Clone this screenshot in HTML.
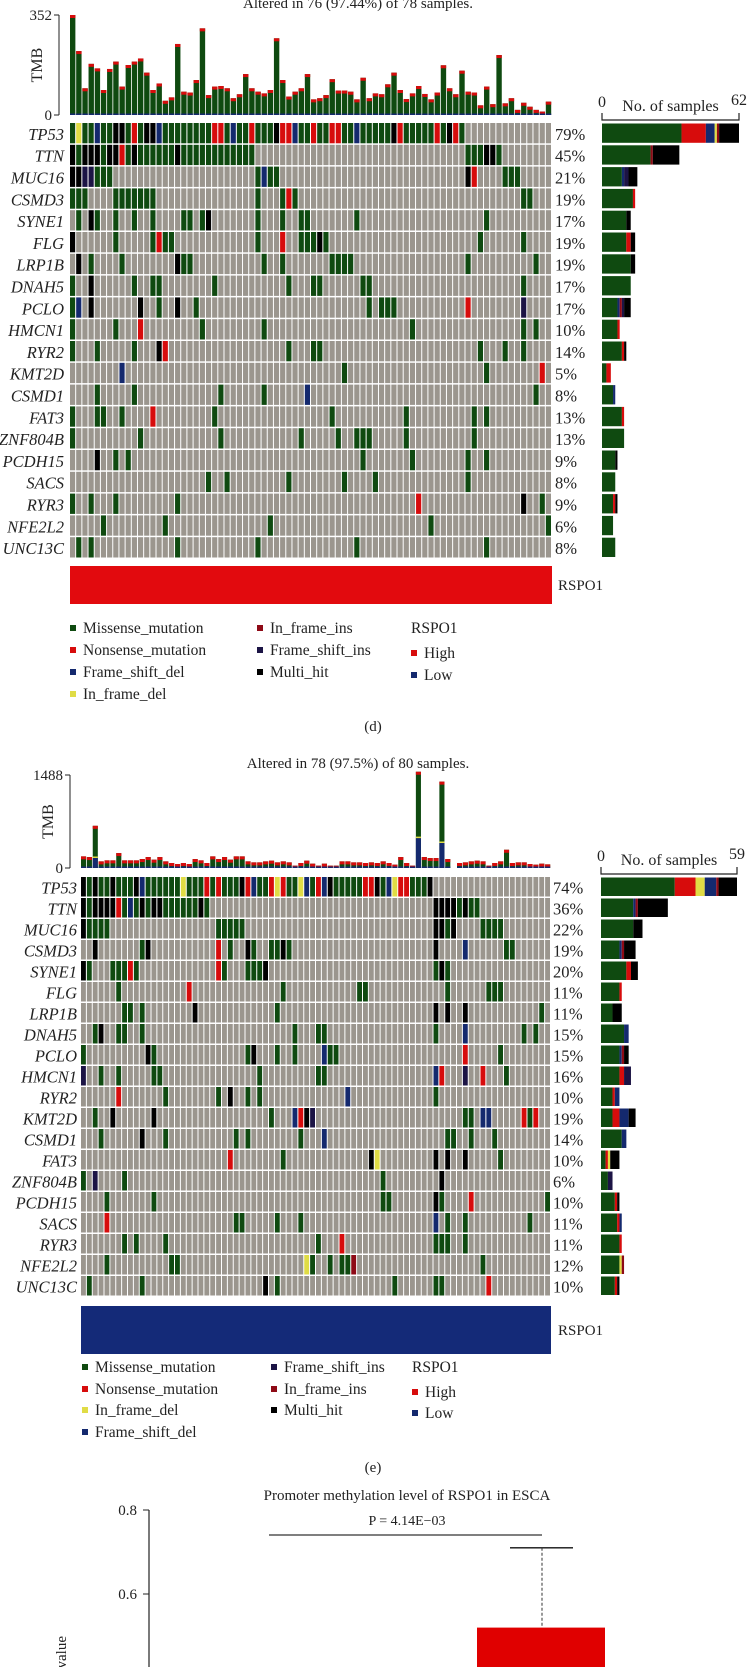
<!DOCTYPE html>
<html><head><meta charset="utf-8">
<style>
html,body{margin:0;padding:0;background:#fff;}
svg{display:block;font-family:"Liberation Serif",serif;}
</style></head>
<body>
<svg id="fig" width="755" height="1667" viewBox="0 0 755 1667" xmlns="http://www.w3.org/2000/svg"></svg>
<script>
// ---------- DATA ----------
const genes = ["TP53","TTN","MUC16","CSMD3","SYNE1","FLG","LRP1B","DNAH5","PCLO","HMCN1","RYR2","KMT2D","CSMD1","FAT3","ZNF804B","PCDH15","SACS","RYR3","NFE2L2","UNC13C"];
const pctD = ["79%","45%","21%","19%","17%","19%","19%","17%","17%","10%","14%","5%","8%","13%","13%","9%","8%","9%","6%","8%"];
const pctE = ["74%","36%","22%","19%","20%","11%","11%","15%","15%","16%","10%","19%","14%","10%","6%","10%","11%","11%","12%","10%"];
const mutD = [
"0M 1I 2-3M 4D 5-6M 7-8H 9M 10N 11M 12-13H 14D 15-22M 23-24N 25M 26D 27-28M 29N 30-32M 33H 34-35N 36D 37-38M 39N 40-41M 42-43N 44-45M 46D 47-51M 52H 53N 54-58M 59N 60M 61H 62N 63M",
"0H 1M 2-4H 5M 6-7H 8N 9M 10H 11-16M 17H 18-29M 64-66M 67-68H 69M",
"0-1H 2-3S 4-6M 30M 31D 32-33M 64H 65N 70-72M",
"0-2M 7-13M 30M 34M 35N 36M 73-74M",
"1M 3H 4M 7M 10M 13M 18-19M 21M 22H 30M 34M 37-38M 46M 67M",
"0H 7M 13M 14N 15-16M 30M 34N 37-39M 40H 41M 66M 73M",
"1H 3M 8M 17H 18-19M 31M 34M 42-45M 64M 75M",
"0M 3H 10M 13-14M 23M 35M 39-40M 47-48M 73M",
"0M 1D 3H 11H 14M 17H 20M 48M 50-52M 64N 73S",
"0M 7M 11N 21M 31M 55M 73M 75M",
"0M 4M 10M 14H 15N 35M 39-40M 66M 70M 73M",
"8D 44M 67M 76N",
"4M 10M 24M 31M 38D 75M",
"0M 4-5M 8M 13N 23M 42M 54M 65M 67M",
"0M 11M 24M 37M 43M 46-48M 54M 65M",
"4H 7M 9M 47M 55M 64M 67M",
"22M 25M 35M 44M 49M 64M",
"0M 3M 7M 17M 56N 73H 76M",
"5M 15M 32M 58M 77M",
"1M 3M 17M 30M 46M 67M"];
const mutE = [
"0H 1M 2H 3-4M 5H 6-8M 9H 10D 11-16M 17I 18-20M 21N 22M 23N 24-26M 27H 28N 29D 30-31M 32N 33I 34N 35-36M 37I 38D 39M 40N 41D 42H 43-47M 48-49N 50H 51M 52D 53I 54-55N 56-58M 59H",
"0H 1M 2-5H 6N 7M 8D 9M 10H 11M 12-13H 14-19M 20H 21M 60-63H 64M 65H 66-67M",
"0H 1-4M 23-27M 60-61H 62M 63H 68-71M",
"2H 10M 11H 23N 25M 28H 29M 32-33M 34H 35M 60H 65D 72-73M",
"0H 1M 5-7M 8N 9M 23N 24M 28-30M 31H 60M 61H 62M",
"6M 18N 34M 47-48M 62M 69-71M",
"7-8M 10M 19H 33M 60H 62H 65H 78M",
"2M 3H 6-7M 10M 36M 40-41M 60M 65D 75M 77M",
"0M 11H 12M 28M 29H 33M 36M 41D 42-43M 65N 71M",
"0S 3M 6M 12-13M 30M 40-41M 60D 61N 65S 68N 72M",
"6N 14M 23M 25H 28M 30M 45D 60M",
"2M 5H 12H 32M 36D 37N 38H 39S 65-66M 68-69D 75N 76M 77N",
"3M 10H 14M 26M 28M 37M 41D 62-63M 66M 70M",
"25N 34M 49H 50I 60H 62H 65H 71M",
"0M 2S 7M 51M 61H",
"4M 12M 51-52M 60H 61M 66N 79M",
"4N 26-27M 33M 37M 60D 62M 65M 76M",
"7M 9M 14M 40M 44N 60-62M 65M",
"4M 15-16M 38I 39M 42M 44-45M 46F 68M",
"1M 10M 31H 33M 53M 60-61M 69N"];
const tmbD = [352,225,94,180,164,88,162,188,100,176,188,199,149,88,111,50,62,250,82,79,123,305,70,100,102,94,59,73,144,94,82,76,88,270,123,65,82,94,144,55,59,70,126,86,86,82,55,131,59,76,73,108,149,88,56,76,102,74,55,79,175,94,73,156,82,79,34,100,38,211,41,59,18,43,29,18,12,47];
const tmbE = [186,175,675,106,122,122,239,122,122,122,143,175,133,175,106,80,64,80,64,143,122,80,186,143,175,133,186,186,106,90,90,106,117,90,106,90,37,80,117,69,37,69,37,37,106,106,90,90,80,90,80,106,80,53,175,80,37,1540,175,159,159,1382,143,0,80,90,106,117,106,37,80,106,292,80,90,90,64,53,69,58];
const tmbEDel = {2:160,57:478,61:400};
const barDM=[36,22,9,14,11,11,13,13,7,7,9,2,5,9,10,6,6,5,5,6];
const barDN=[11,0,0,1,0,2,0,0,0,1,1,2,0,1,0,0,0,1,0,0];
const barDF=[1,1,0,0,0,0,0,0,1,0,0,0,0,0,0,0,0,0,0,0];
const barDI=[1,0,0,0,0,0,0,0,0,0,0,0,0,0,0,0,0,0,0,0];
const barDD=[4,0,1,0,0,0,0,0,1,0,0,0,1,0,0,0,0,0,0,0];
const barDS=[0,0,2,0,0,0,0,0,1,0,0,0,0,0,0,0,0,0,0,0];
const barDH=[9,12,4,0,2,2,2,0,3,0,1,0,0,0,0,1,0,1,0,0];
const barEM=[32,14,14,8,11,8,5,10,8,8,5,5,9,2,3,6,7,8,8,6];
const barEN=[9,0,0,0,2,1,0,0,0,2,1,3,0,1,0,1,1,1,0,1];
const barEF=[1,1,0,1,0,0,0,0,1,0,0,0,0,0,0,0,0,0,1,0];
const barEI=[4,0,0,0,0,0,0,0,0,0,0,0,0,1,0,0,0,0,1,0];
const barED=[5,1,0,1,0,0,0,2,1,0,2,4,2,0,0,0,1,0,0,0];
const barES=[0,0,0,0,0,0,0,0,0,3,0,0,0,0,2,0,0,0,0,0];
const barEH=[8,13,4,5,3,0,4,0,2,0,0,3,0,4,0,1,0,0,0,1];
const boxWhiskerTop = 0.71;
const boxTop = 0.52;
const yTicksMeth = [0.8,0.6,0.4];

// ---------- HELPERS ----------
const NS="http://www.w3.org/2000/svg";
const svg=document.getElementById('fig');
const COL={M:"#0f4a10",N:"#d70c0c",D:"#14296e",I:"#e0dc45",S:"#1c1445",F:"#8e0a16",H:"#000000"};
const GREY="#9b968e";
function el(tag,attrs,parent){const e=document.createElementNS(NS,tag);for(const k in attrs)e.setAttribute(k,attrs[k]);(parent||svg).appendChild(e);return e;}
function txt(s,attrs,parent){const t=el('text',attrs,parent);t.textContent=s;return t;}
function parseMut(str){const m={};str.trim().split(/\s+/).forEach(tok=>{const mm=tok.match(/^(\d+)(?:-(\d+))?([A-Z])$/);if(!mm)return;const a=+mm[1],b=mm[2]?+mm[2]:a;for(let i=a;i<=b;i++)m[i]=mm[3];});return m;}

function oncoplot(cfg){
  const g=el('g',{});
  
  
  const w=(cfg.x1-cfg.x0)/cfg.n, h=cfg.rowH;
  const t=txt(cfg.title,{x:358,y:cfg.titleY,'text-anchor':'middle','font-size':15,fill:'#222'},g);
  
  const ty=v=>cfg.tmbBase-(v/cfg.tmbMax)*(cfg.tmbBase-cfg.tmbTop);
  el('line',{x1:cfg.axX,y1:cfg.tmbTop,x2:cfg.axX,y2:cfg.tmbBase,stroke:'#222','stroke-width':1},g);
  [[cfg.tmbMax,cfg.tmbTop],[0,cfg.tmbBase]].forEach(([v,y])=>{
    el('line',{x1:cfg.axX-5,y1:y,x2:cfg.axX,y2:y,stroke:'#222'},g);
    const l=txt(String(v),{x:cfg.axX-7,y:y+5,'text-anchor':'end','font-size':15,fill:'#222'},g);
    
  });
  const ym=(cfg.tmbTop+cfg.tmbBase)/2;
  const tl=txt('TMB',{x:cfg.axX-17,y:ym,'text-anchor':'middle','font-size':16,fill:'#222',transform:`rotate(-90 ${cfg.axX-17} ${ym})`},g);
  
  cfg.tmb.forEach((v,i)=>{
    if(!v)return;
    const x=cfg.x0+i*w, top=Math.max(ty(v),cfg.tmbTop-8);
    const b=el('rect',{x:x,y:top,width:w-0.8,height:cfg.tmbBase-top,fill:COL.M},g);
    
    el('rect',{x:x,y:top,width:w-0.8,height:Math.min(3,cfg.tmbBase-top),fill:COL.N},g);
    el('rect',{x:x,y:cfg.tmbBase-1.5,width:w-0.8,height:1.5,fill:COL.D},g);
    if(cfg.tmbDel&&cfg.tmbDel[i]){const dy=ty(cfg.tmbDel[i]);el('rect',{x:x,y:dy,width:w-0.8,height:cfg.tmbBase-dy,fill:COL.D},g);el('rect',{x:x,y:dy-1.5,width:w-0.8,height:1.5,fill:COL.I},g);}
  });
  cfg.muts.forEach((s,r)=>{
    const m=parseMut(s), y=cfg.y0+r*h;
    for(let i=0;i<cfg.n;i++){
      const c=el('rect',{x:cfg.x0+i*w,y:y,width:w-1,height:h-1.5,fill:m[i]?COL[m[i]]:GREY},g);
      
    }
    const gl=txt(genes[r],{x:cfg.geneX,y:y+h/2+6,'text-anchor':'end','font-size':16.5,'font-style':'italic',fill:'#222'},g);
    
    const pl=txt(cfg.pct[r],{x:cfg.pctX,y:y+h/2+6,'font-size':16.5,fill:'#222'},g);
    
    let cx=cfg.bx0; const sc=(cfg.bx1-cfg.bx0)/cfg.bMax;
    cfg.bars.forEach(([k,arr])=>{const v=arr[r];if(!v)return;
      const rb=el('rect',{x:cx,y:y+0.5,width:v*sc,height:h-2.5,fill:COL[k]},g);
      
      cx+=v*sc;});
  });
  const by=cfg.bAxY;
  el('path',{d:`M${cfg.bx0} ${by-7}V${by}H${cfg.bx1}V${by-7}`,fill:'none',stroke:'#222','stroke-width':1.2},g);
  txt('0',{x:cfg.bx0,y:by-13,'text-anchor':'middle','font-size':16,fill:'#222'},g);
  txt(String(cfg.bMax),{x:cfg.bx1,y:by-15,'text-anchor':'middle','font-size':16,fill:'#222'},g);
  const nl=txt('No. of samples',{x:(cfg.bx0+cfg.bx1)/2,y:by-9,'text-anchor':'middle','font-size':16,fill:'#222'},g);
  
  const rs=el('rect',{x:cfg.x0,y:cfg.rsY,width:cfg.x1-cfg.x0,height:cfg.rsH,fill:cfg.rsCol},g);
  
  txt('RSPO1',{x:558,y:cfg.rsY+cfg.rsH/2+5,'font-size':15,fill:'#222'},g);
  cfg.legend.forEach(([label,k,x,y])=>{
    const lg=el('g',{},g);
    
    if(k)el('rect',{x:x,y:y-8,width:6,height:6,fill:COL[k]},lg);
    txt(label,{x:k?x+13:x,y:y,'font-size':15.5,fill:'#222'},lg);
  });
}

oncoplot({name:'oncoplot-d',title:'Altered in 76 (97.44%) of 78 samples.',titleY:8,n:78,x0:70,x1:552,y0:123,rowH:21.8,
  muts:mutD,pct:pctD,tmb:tmbD,tmbMax:352,tmbTop:15,tmbBase:115,axX:59,geneX:64,pctX:555,
  bx0:602,bx1:739,bMax:62,bAxY:120,
  bars:[['M',barDM],['N',barDN],['D',barDD],['I',barDI],['F',barDF],['S',barDS],['H',barDH]],
  rsY:566,rsH:38,rsCol:'#e20a0e',
  legend:[['Missense_mutation','M',70,633],['Nonsense_mutation','N',70,655],['Frame_shift_del','D',70,677],['In_frame_del','I',70,699],
          ['In_frame_ins','F',257,633],['Frame_shift_ins','S',257,655],['Multi_hit','H',257,677],
          ['RSPO1',null,411,633],['High','N',411,658],['Low','D',411,680]]});
oncoplot({name:'oncoplot-e',title:'Altered in 78 (97.5%) of 80 samples.',titleY:768,n:80,x0:81,x1:551,y0:877,rowH:21.0,
  muts:mutE,pct:pctE,tmb:tmbE,tmbDel:tmbEDel,tmbMax:1488,tmbTop:775,tmbBase:868,axX:70,geneX:77,pctX:553,
  bx0:601,bx1:737,bMax:59,bAxY:874,
  bars:[['M',barEM],['N',barEN],['I',barEI],['D',barED],['F',barEF],['S',barES],['H',barEH]],
  rsY:1306,rsH:48,rsCol:'#142a78',
  legend:[['Missense_mutation','M',82,1372],['Nonsense_mutation','N',82,1394],['In_frame_del','I',82,1415],['Frame_shift_del','D',82,1437],
          ['Frame_shift_ins','S',271,1372],['In_frame_ins','F',271,1394],['Multi_hit','H',271,1415],
          ['RSPO1',null,412,1372],['High','N',412,1397],['Low','D',412,1418]]});

const pd=txt('(d)',{x:373,y:731,'text-anchor':'middle','font-size':15,fill:'#222'});

const pe=txt('(e)',{x:373,y:1472,'text-anchor':'middle','font-size':15,fill:'#222'});


const my=v=>1510+(0.8-v)*420;
const mt=txt('Promoter methylation level of RSPO1 in ESCA',{x:407,y:1500,'text-anchor':'middle','font-size':15,fill:'#222'});

const pv=txt('P = 4.14E\u221203',{x:407,y:1525,'text-anchor':'middle','font-size':14,fill:'#222'});

el('line',{x1:149,y1:my(0.8),x2:149,y2:1667,stroke:'#222','stroke-width':1.2});
yTicksMeth.forEach(v=>{
  el('line',{x1:143,y1:my(v),x2:149,y2:my(v),stroke:'#222'});
  const l=txt(v.toFixed(1),{x:137,y:my(v)+5,'text-anchor':'end','font-size':15,fill:'#222'});
  
});
const yl=txt('Beta value',{x:66,y:1636,'text-anchor':'end','font-size':15,fill:'#222',transform:'rotate(-90 66 1636)'});

const sl=el('line',{x1:269,y1:1535,x2:542,y2:1535,stroke:'#555','stroke-width':1.5});

el('line',{x1:510,y1:my(boxWhiskerTop),x2:573,y2:my(boxWhiskerTop),stroke:'#111','stroke-width':1.3});
el('line',{x1:542,y1:my(boxWhiskerTop),x2:542,y2:my(boxTop),stroke:'#333','stroke-width':1,'stroke-dasharray':'3,2'});
const bx=el('rect',{x:477,y:my(boxTop),width:128,height:1667-my(boxTop),fill:'#e00000'});

</script>
</body></html>
